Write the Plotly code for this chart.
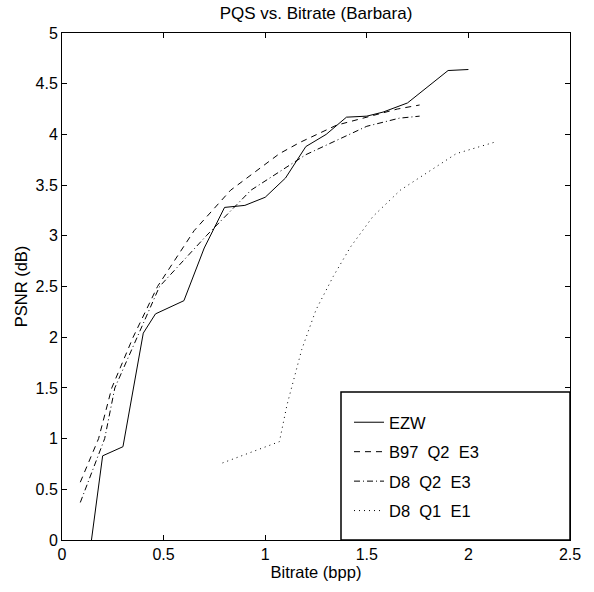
import plotly.graph_objects as go

# EZW (solid)
ezw_x = [0.145, 0.2, 0.3, 0.4, 0.46, 0.6, 0.7, 0.8, 0.9, 1.0, 1.1, 1.2, 1.3, 1.4, 1.5, 1.58, 1.7, 1.9, 2.0]
ezw_y = [0.0, 0.83, 0.92, 2.04, 2.23, 2.36, 2.88, 3.28, 3.3, 3.38, 3.57, 3.88, 4.0, 4.17, 4.18, 4.22, 4.31, 4.63, 4.64]

# B97 Q2 E3 (dashed)
b97_x = [0.09, 0.18, 0.245, 0.35, 0.47, 0.65, 0.83, 1.07, 1.17, 1.35, 1.65, 1.76]
b97_y = [0.57, 1.0, 1.5, 2.0, 2.5, 3.05, 3.45, 3.81, 3.92, 4.09, 4.25, 4.29]

# D8 Q2 E3 (dash-dot)
d8q2_x = [0.09, 0.21, 0.26, 0.37, 0.48, 0.71, 0.93, 1.2, 1.34, 1.5, 1.66, 1.76]
d8q2_y = [0.37, 1.0, 1.5, 2.0, 2.5, 3.0, 3.45, 3.8, 3.93, 4.08, 4.16, 4.18]

# D8 Q1 E1 (dotted)
d8q1_x = [0.79, 1.07, 1.107, 1.18, 1.25, 1.335, 1.42, 1.53, 1.665, 1.83, 1.94, 2.14]
d8q1_y = [0.76, 0.97, 1.33, 1.88, 2.27, 2.6, 2.89, 3.19, 3.45, 3.67, 3.81, 3.93]

names = ["EZW", "B97  Q2  E3", "D8  Q2  E3", "D8  Q1  E1"]
dashes = ["solid", "6px,5px", "6px,3px,1px,3px", "1px,4px"]

fig = go.Figure()
for i, (xs, ys) in enumerate([(ezw_x, ezw_y), (b97_x, b97_y), (d8q2_x, d8q2_y), (d8q1_x, d8q1_y)]):
    fig.add_trace(go.Scatter(x=xs, y=ys, mode="lines", name=names[i], legendgroup=str(i),
                             line=dict(color="black", width=1, dash=dashes[i])))

font = "Liberation Sans, Arial, sans-serif"
axis_common = dict(showline=True, linecolor="black", linewidth=1, mirror="ticks",
                   ticks="inside", ticklen=5, tickcolor="black", showgrid=False, zeroline=False,
                   tickfont=dict(family=font, size=16, color="black"))

fig.update_layout(
    width=594, height=592,
    margin=dict(l=62, r=24, t=33, b=52),
    paper_bgcolor="white", plot_bgcolor="white",
    title=dict(text="PQS vs. Bitrate (Barbara)", x=316 / 594, xanchor="center", y=1 - 13 / 592, yanchor="middle",
               font=dict(family=font, size=17, color="black")),
    xaxis=dict(range=[0, 2.5], tickvals=[0, 0.5, 1, 1.5, 2, 2.5], ticktext=["0", "0.5", "1", "1.5", "2", "2.5"],
               title=dict(text="Bitrate (bpp)", font=dict(family=font, size=16.5, color="black"), standoff=2),
               **axis_common),
    yaxis=dict(range=[0, 5], tickvals=[0, 0.5, 1, 1.5, 2, 2.5, 3, 3.5, 4, 4.5, 5],
               ticktext=["0", "0.5", "1", "1.5", "2", "2.5", "3", "3.5", "4", "4.5", "5"],
               title=dict(text="PSNR (dB)", font=dict(family=font, size=16.5, color="black"), standoff=3),
               **axis_common),
    showlegend=True,
    legend=dict(x=(349 - 62) / 508, xanchor="left", y=(540 - 405) / 507, yanchor="top",
                bgcolor="rgba(0,0,0,0)", borderwidth=0, tracegroupgap=5,
                font=dict(family=font, size=16.5, color="black"), itemwidth=30),
    shapes=[dict(type="rect", xref="paper", yref="paper", x0=(341 - 62) / 508, x1=1, y0=0, y1=(540 - 392) / 507,
                 line=dict(color="black", width=1.5), fillcolor="white", layer="above")],
)

fig.write_html("out.html")
